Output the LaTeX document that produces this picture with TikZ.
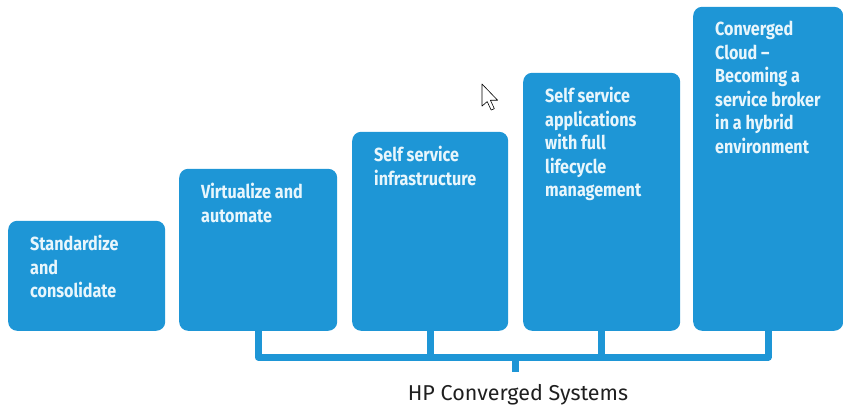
\documentclass[tikz,border=0pt]{standalone}
\usepackage{fontspec}
\setmainfont{Fira Sans}
\newfontfamily\stagefont{Fira Sans}[FakeStretch=0.85]
\definecolor{hpblue}{RGB}{30,150,214}
\definecolor{hpwhite}{RGB}{232,246,252}
\tikzset{
  stagebox/.style={fill=hpblue, rounded corners=9pt, inner sep=0pt, anchor=south west},
  stagetext/.style={anchor=north west, inner sep=0pt, align=left, text=hpwhite,
    font=\stagefont\bfseries\fontsize{19}{23.5}\selectfont},
  rail/.style={draw=hpblue, line width=7pt},
}
\begin{document}
\begin{tikzpicture}[x=1pt, y=-1pt, line join=round]
  \useasboundingbox (0,0) rectangle (843,407);
  \clip (0,0) rectangle (843,407);
  % stages: index / left / top / width / text
  \foreach \i/\xa/\ya/\w/\txt in {
      1/8/221/157/{Standardize\\and\\consolidate},
      2/179/169/158/{Virtualize and\\automate},
      3/352/132/156/{Self service\\infrastructure},
      4/523/73/157/{Self service\\applications\\with full\\lifecycle\\management},
      5/693/7/150/{Converged\\Cloud –\\Becoming a\\service broker\\in a hybrid\\environment}}
  {
    \node[stagebox, minimum width=\w, minimum height=331-\ya] (s\i) at (\xa,331) {};
    \node[stagetext] (t\i) at (\xa+22,\ya+14) {\txt};
  }
  % bracket below the stages
  \coordinate (hub) at (515,357);
  \draw[rail] (s2.south) -- (s2.south |- hub) -| (s5.south);
  \foreach \i in {3,4}
    \draw[rail] (s\i.south) -- (s\i.south |- hub);
  \draw[rail] (hub) -- ++(0,15) coordinate (hubend);
  \node[anchor=base, inner sep=0pt, text=black!88, font=\fontsize{21.5}{24}\selectfont] (title) at (518,400) {HP Converged Systems};
  % mouse pointer
  \draw[fill=white, line width=0.6pt, shift={(482,84)}, scale=1.3]
    (0,0) -- (0,17) -- (4,13.5) -- (7,20) -- (9.5,19) -- (6.5,12.5) -- (12,12.5) -- cycle;
\end{tikzpicture}
\end{document}
